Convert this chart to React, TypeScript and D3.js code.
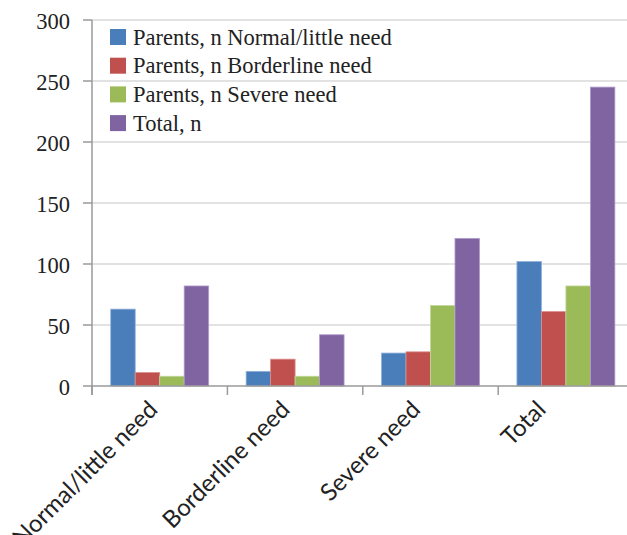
import React, { useEffect, useRef } from "react";
import * as d3 from "d3";

const categories = ["Normal/little need", "Borderline need", "Severe need", "Total"];
const seriesNames = [
  "Parents, n Normal/little need",
  "Parents, n Borderline need",
  "Parents, n Severe need",
  "Total, n",
];
const normalValues = [63, 12, 27, 102];
const borderlineValues = [11, 22, 28, 61];
const severeValues = [8, 8, 66, 82];
const totalValues = [82, 42, 121, 245];
const yTicks = [0, 50, 100, 150, 200, 250, 300];
const colors = ["#4a7ebb", "#c0504d", "#9bbb59", "#8064a2"];
const strokes = ["#8fb0da", "#dc8f8d", "#c3d79d", "#b09ccb"];

const W = 627;
const H = 535;

export default function App() {
  const ref = useRef<SVGSVGElement | null>(null);

  useEffect(() => {
    const svg = d3.select(ref.current);
    svg.selectAll("*").remove();
    const seriesValues = [normalValues, borderlineValues, severeValues, totalValues];

    const left = 92;
    const right = 633.6;
    const top = 20;
    const bottom = 386;

    const x0 = d3.scaleBand<string>().domain(categories).range([left, right]).paddingInner(0).paddingOuter(0);
    const x1 = d3
      .scaleBand<string>()
      .domain(seriesNames)
      .range([0, x0.bandwidth()])
      .paddingInner(0)
      .paddingOuter(0.765);
    const y = d3.scaleLinear().domain([0, 300]).range([bottom, top]);

    // gridlines
    svg
      .append("g")
      .selectAll("line")
      .data(yTicks.filter((t) => t !== 0))
      .join("line")
      .attr("x1", left)
      .attr("x2", W)
      .attr("y1", (d) => y(d))
      .attr("y2", (d) => y(d))
      .attr("stroke", "#d9d9d9")
      .attr("stroke-width", 1.5);

    // bars
    const g = svg.append("g");
    seriesNames.forEach((s, si) => {
      g.append("g")
        .selectAll("rect")
        .data(seriesValues[si])
        .join("rect")
        .attr("x", (_d, i) => (x0(categories[i]) as number) + (x1(s) as number))
        .attr("width", x1.bandwidth())
        .attr("y", (d) => y(d))
        .attr("height", (d) => y(0) - y(d))
        .attr("fill", colors[si])
        .attr("stroke", strokes[si])
        .attr("stroke-width", 0.8);
    });

    // y axis
    const axisColor = "#9a9a9a";
    svg
      .append("line")
      .attr("x1", left)
      .attr("x2", left)
      .attr("y1", top)
      .attr("y2", bottom + 9)
      .attr("stroke", axisColor)
      .attr("stroke-width", 1.5);
    svg
      .append("g")
      .selectAll("line")
      .data(yTicks)
      .join("line")
      .attr("x1", left - 9)
      .attr("x2", left)
      .attr("y1", (d) => y(d))
      .attr("y2", (d) => y(d))
      .attr("stroke", axisColor)
      .attr("stroke-width", 1.5);
    svg
      .append("g")
      .selectAll("text")
      .data(yTicks)
      .join("text")
      .attr("x", 70)
      .attr("y", (d) => y(d) + 8.5)
      .attr("text-anchor", "end")
      .attr("font-family", "'Liberation Serif', 'Times New Roman', serif")
      .attr("font-size", 22.5)
      .attr("fill", "#222")
      .text((d) => String(d));

    // x axis
    svg
      .append("line")
      .attr("x1", left)
      .attr("x2", W)
      .attr("y1", bottom)
      .attr("y2", bottom)
      .attr("stroke", axisColor)
      .attr("stroke-width", 1.5);
    const catEdges = categories.map((c) => x0(c) as number).concat([right]);
    svg
      .append("g")
      .selectAll("line")
      .data(catEdges.filter((e) => e <= W))
      .join("line")
      .attr("x1", (d) => d)
      .attr("x2", (d) => d)
      .attr("y1", bottom)
      .attr("y2", bottom + 9)
      .attr("stroke", axisColor)
      .attr("stroke-width", 1.5);

    const labels = svg
      .append("g")
      .selectAll("text")
      .data(categories)
      .join("text")
      .attr("text-anchor", "end")
      .attr("font-family", "Lato, 'Open Sans', sans-serif")
      .attr("font-size", 24)
      .attr("fill", "#222")
      .text((d) => d);
    labels.each(function (d) {
      const el = this as SVGTextElement;
      const L = el.getComputedTextLength();
      const cx = (x0(d) as number) + x0.bandwidth() / 2;
      const ex = cx - 25 + 0.126 * L;
      d3.select(el).attr("transform", `translate(${ex},${411}) rotate(-45)`);
    });

    // legend
    const lg = svg.append("g");
    seriesNames.forEach((s, i) => {
      const yy = 29 + i * 28.7;
      lg.append("rect").attr("x", 110).attr("y", yy).attr("width", 16).attr("height", 16).attr("fill", colors[i]);
      lg.append("text")
        .attr("x", 133)
        .attr("y", yy + 15.5)
        .attr("font-family", "'Liberation Serif', 'Times New Roman', serif")
        .attr("font-size", 22.5)
        .attr("fill", "#222")
        .text(s);
    });
  }, []);

  return (
    <svg
      ref={ref}
      width={W}
      height={H}
      style={{ position: "absolute", left: 0, top: 0, background: "#fff" }}
    />
  );
}
